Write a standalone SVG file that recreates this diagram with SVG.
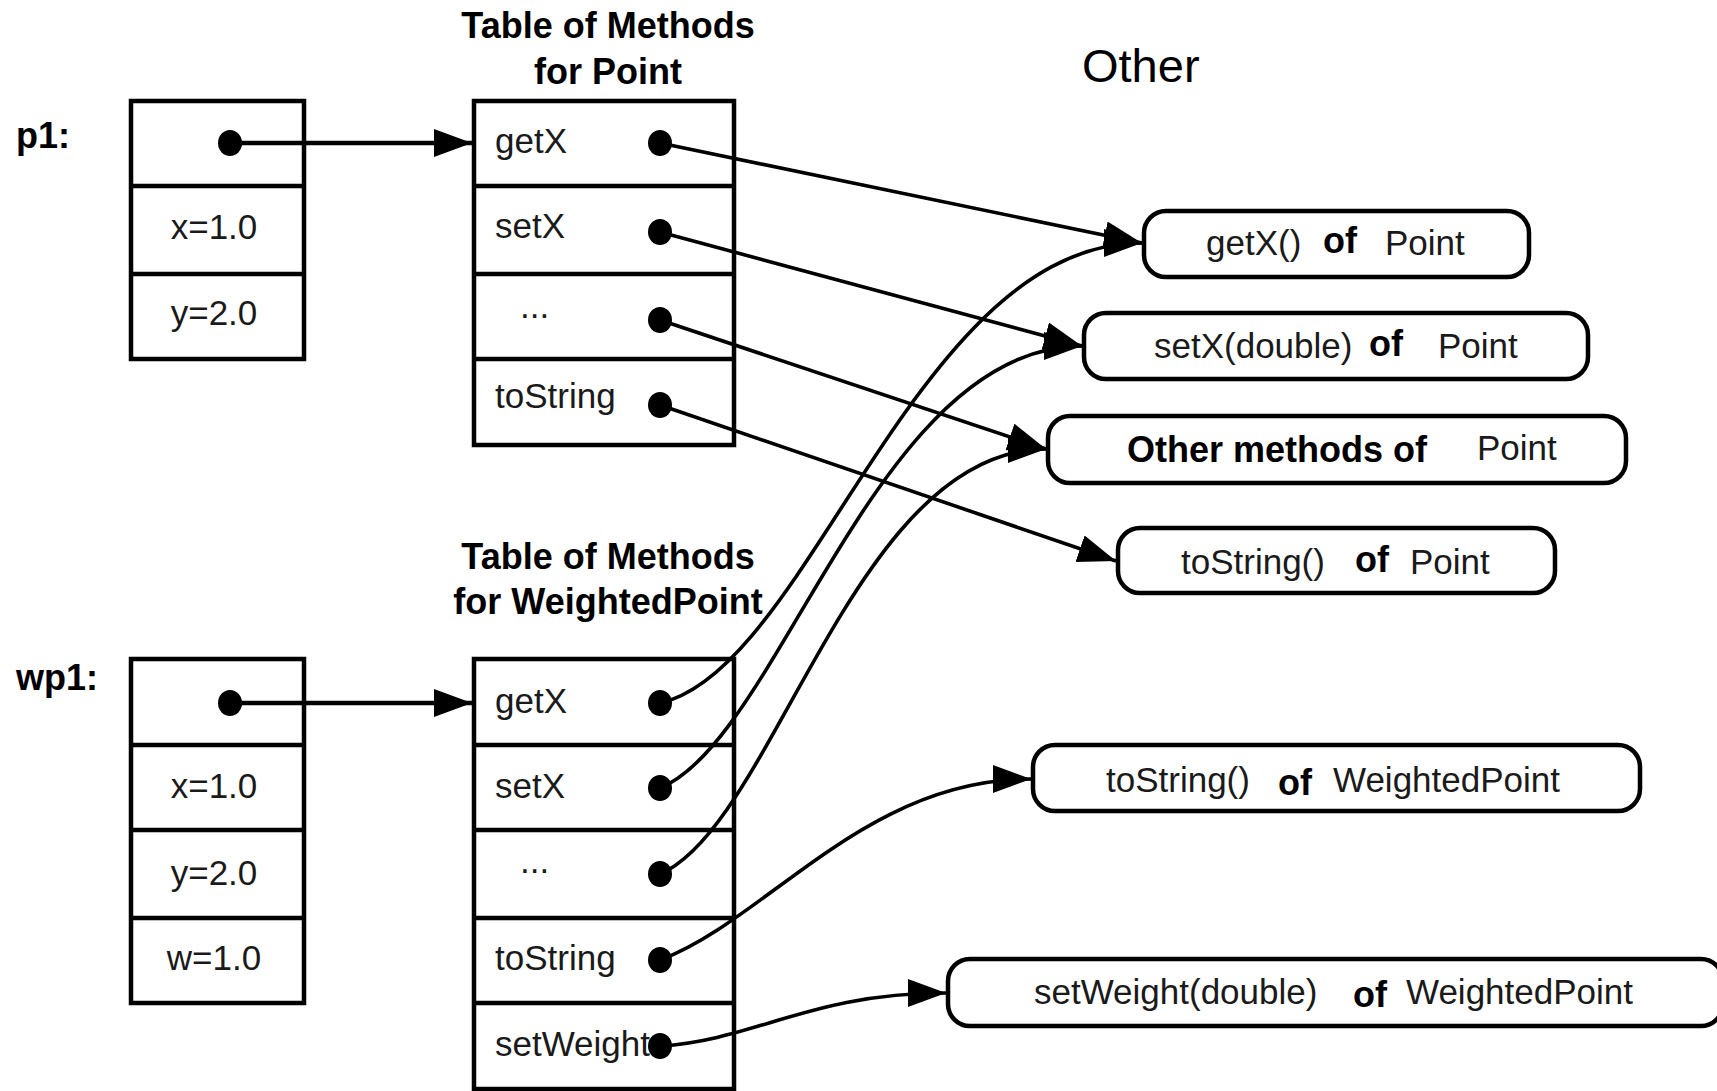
<svg xmlns="http://www.w3.org/2000/svg" width="1717" height="1091" viewBox="0 0 1717 1091">
<defs>
<style>
.box{fill:#fff;stroke:#000;stroke-width:4.5}
.cell{fill:none;stroke:#000;stroke-width:4.5}
.rbox{fill:#fff;stroke:#000;stroke-width:4.5}
.t{font-family:"Liberation Sans",Arial,sans-serif;font-size:35px;fill:#1a1a1a}
.b{font-family:"Liberation Sans",Arial,sans-serif;font-size:36px;font-weight:bold;fill:#000}
.ttl{font-family:"Liberation Sans",Arial,sans-serif;font-size:36px;font-weight:bold;fill:#000;text-anchor:middle}
.c{font-family:"Liberation Sans",Arial,sans-serif;font-size:35px;fill:#1a1a1a;text-anchor:middle}
.dot{fill:#000}
.con{fill:none;stroke:#000;stroke-width:3.6;marker-end:url(#ah)}
.ptr{fill:none;stroke:#000;stroke-width:4.5;marker-end:url(#ah)}
</style>
<marker id="ah" markerUnits="userSpaceOnUse" markerWidth="40" markerHeight="30" refX="38" refY="14" orient="auto">
<path d="M0,0 L38,14 L0,28 z" fill="#000"/>
</marker>
</defs>
<rect width="1717" height="1091" fill="#fff"/>

<g id="title-other"><text x="1082" y="82" class="t" style="font-size:47px;fill:#000">Other</text></g>

<g id="title-point">
<text x="608" y="38" class="ttl">Table of Methods</text>
<text x="608" y="84" class="ttl">for Point</text>
</g>
<g id="title-wp">
<text x="608" y="569" class="ttl">Table of Methods</text>
<text x="608" y="614" class="ttl">for WeightedPoint</text>
</g>

<g id="p1">
<text x="16" y="148" class="b">p1:</text>
<rect x="131" y="101" width="173" height="258" class="box"/>
<line x1="131" y1="186" x2="304" y2="186" class="cell"/>
<line x1="131" y1="274" x2="304" y2="274" class="cell"/>
<text x="214" y="239" class="c">x=1.0</text>
<text x="214" y="325" class="c">y=2.0</text>
<ellipse cx="230" cy="143" rx="12" ry="13" class="dot"/>
</g>

<g id="wp1">
<text x="16" y="690" class="b">wp1:</text>
<rect x="131" y="659" width="173" height="344" class="box"/>
<line x1="131" y1="745" x2="304" y2="745" class="cell"/>
<line x1="131" y1="830" x2="304" y2="830" class="cell"/>
<line x1="131" y1="918" x2="304" y2="918" class="cell"/>
<text x="214" y="798" class="c">x=1.0</text>
<text x="214" y="885" class="c">y=2.0</text>
<text x="214" y="970" class="c">w=1.0</text>
<ellipse cx="230" cy="703" rx="12" ry="13" class="dot"/>
</g>

<g id="table-point">
<rect x="474" y="101" width="260" height="344" class="box"/>
<line x1="474" y1="186" x2="734" y2="186" class="cell"/>
<line x1="474" y1="274" x2="734" y2="274" class="cell"/>
<line x1="474" y1="359" x2="734" y2="359" class="cell"/>
<text x="495" y="153" class="t">getX</text>
<text x="495" y="238" class="t">setX</text>
<text x="520" y="318" class="t">...</text>
<text x="495" y="408" class="t">toString</text>
<ellipse cx="660" cy="143" rx="12" ry="13" class="dot"/>
<ellipse cx="660" cy="232" rx="12" ry="13" class="dot"/>
<ellipse cx="660" cy="320" rx="12" ry="13" class="dot"/>
<ellipse cx="660" cy="405" rx="12" ry="13" class="dot"/>
</g>

<g id="table-wp">
<rect x="474" y="659" width="260" height="430" class="box"/>
<line x1="474" y1="745" x2="734" y2="745" class="cell"/>
<line x1="474" y1="830" x2="734" y2="830" class="cell"/>
<line x1="474" y1="918" x2="734" y2="918" class="cell"/>
<line x1="474" y1="1003" x2="734" y2="1003" class="cell"/>
<text x="495" y="713" class="t">getX</text>
<text x="495" y="798" class="t">setX</text>
<text x="520" y="873" class="t">...</text>
<text x="495" y="970" class="t">toString</text>
<text x="495" y="1056" class="t">setWeight</text>
<ellipse cx="660" cy="703" rx="12" ry="13" class="dot"/>
<ellipse cx="660" cy="788" rx="12" ry="13" class="dot"/>
<ellipse cx="660" cy="874" rx="12" ry="13" class="dot"/>
<ellipse cx="660" cy="960" rx="12" ry="13" class="dot"/>
<ellipse cx="660" cy="1046" rx="12" ry="13" class="dot"/>
</g>

<g id="m-getx-point">
<rect x="1144" y="211" width="385" height="66" rx="22" class="rbox"/>
<text x="1206" y="255" class="t">getX()</text><text x="1323" y="253" class="b">of</text><text x="1385" y="255" class="t">Point</text>
</g>
<g id="m-setx-point">
<rect x="1084" y="313" width="504" height="66" rx="22" class="rbox"/>
<text x="1154" y="358" class="t">setX(double)</text><text x="1369" y="356" class="b">of</text><text x="1438" y="358" class="t">Point</text>
</g>
<g id="m-other-point">
<rect x="1048" y="416" width="578" height="67" rx="22" class="rbox"/>
<text x="1127" y="462" class="b">Other methods of</text><text x="1477" y="460" class="t">Point</text>
</g>
<g id="m-tostring-point">
<rect x="1118" y="528" width="437" height="65" rx="22" class="rbox"/>
<text x="1181" y="574" class="t">toString()</text><text x="1355" y="572" class="b">of</text><text x="1410" y="574" class="t">Point</text>
</g>
<g id="m-tostring-wp">
<rect x="1033" y="745" width="607" height="66" rx="22" class="rbox"/>
<text x="1106" y="792" class="t">toString()</text><text x="1278" y="795" class="b">of</text><text x="1333" y="792" class="t">WeightedPoint</text>
</g>
<g id="m-setweight-wp">
<rect x="948" y="959" width="775" height="67" rx="22" class="rbox"/>
<text x="1034" y="1004" class="t">setWeight(double)</text><text x="1353" y="1007" class="b">of</text><text x="1406" y="1004" class="t">WeightedPoint</text>
</g>

<g id="connectors">
<line x1="230" y1="143" x2="472" y2="143" class="ptr"/>
<line x1="230" y1="703" x2="472" y2="703" class="ptr"/>
<line x1="660" y1="143" x2="1142" y2="243" class="con"/>
<line x1="660" y1="232" x2="1082" y2="346" class="con"/>
<line x1="660" y1="320" x2="1046" y2="449" class="con"/>
<line x1="660" y1="405" x2="1116" y2="561" class="con"/>
<path d="M660,703 C810,670 915,243 1142,243" class="con"/>
<path d="M660,788 C780,740 876,346 1082,346" class="con"/>
<path d="M660,874 C775,825 854,449 1046,449" class="con"/>
<path d="M660,960 C767,920 865,779 1031,779" class="con"/>
<path d="M660,1046 C756,1040 810,993 946,993" class="con"/>
</g>
</svg>
